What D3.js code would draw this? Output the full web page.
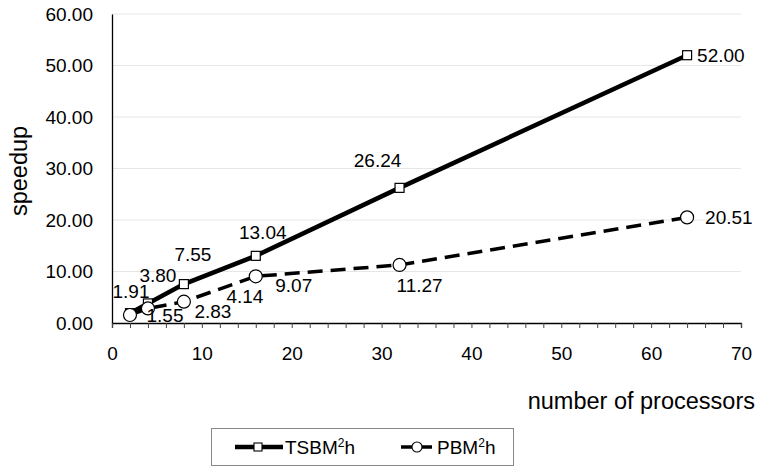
<!DOCTYPE html>
<html>
<head>
<meta charset="utf-8">
<script src="https://cdn.jsdelivr.net/npm/d3@7/dist/d3.min.js"></script>
<style>
  html, body { margin: 0; padding: 0; background: #fff; }
  svg text { font-family: "Liberation Sans", Arial, sans-serif; fill: #000; }
</style>
</head>
<body>
<svg id="chart" width="759" height="468"></svg>
<script>
// Speedup measurements for the two solvers
const processors = [2, 4, 8, 16, 32, 64];
const tsbmSpeedup = [1.91, 3.80, 7.55, 13.04, 26.24, 52.00];
const pbmSpeedup = [1.55, 2.83, 4.14, 9.07, 11.27, 20.51];
const yTicks = [0, 10, 20, 30, 40, 50, 60];
const xTicks = [0, 10, 20, 30, 40, 50, 60, 70];

// Label placement relative to each point: [dx, dy, anchor]
const tsbmLabelPos = [[1, -15, "middle"], [10, -21, "middle"], [9, -23, "middle"], [7, -17, "middle"], [-22, -21, "middle"], [10, 7, "start"]];
const pbmLabelPos = [[35, 7, "middle"], [65, 10, "middle"], [61, 1, "middle"], [38, 16, "middle"], [20, 27, "middle"], [18, 7, "start"]];

const svg = d3.select("#chart");
const margin = { left: 112, right: 18, top: 14, bottom: 145 };
const W = 759, H = 468;
const FONT = "Liberation Sans, Arial, sans-serif";

const x = d3.scaleLinear().domain([0, 70]).range([margin.left, W - margin.right]);
const y = d3.scaleLinear().domain([0, 60]).range([H - margin.bottom, margin.top]);

// horizontal gridlines
svg.append("g")
  .selectAll("line")
  .data(yTicks.filter(d => d > 0))
  .join("line")
  .attr("x1", x(0)).attr("x2", x(70))
  .attr("y1", d => y(d)).attr("y2", d => y(d))
  .attr("stroke", "#e6e6e6").attr("stroke-width", 1);

// y axis: line + labels, no tick marks
const yAxis = svg.append("g")
  .attr("transform", `translate(${x(0)},0)`)
  .call(d3.axisLeft(y).tickValues(yTicks).tickSize(0).tickPadding(19).tickFormat(d3.format(".2f")));
yAxis.select(".domain").attr("stroke", "#000").attr("stroke-width", 1.3);
yAxis.selectAll("text").attr("font-size", 19).attr("font-family", FONT);

// x axis: minor ticks every 2 units
const xMinor = svg.append("g")
  .attr("transform", `translate(0,${y(0)})`)
  .call(d3.axisBottom(x).tickValues(d3.range(0, 71, 2)).tickSize(5).tickFormat(""));
xMinor.select(".domain").attr("stroke", "#000").attr("stroke-width", 1.3);
xMinor.selectAll(".tick line").attr("stroke", "#444");

const xAxis = svg.append("g")
  .attr("transform", `translate(0,${y(0)})`)
  .call(d3.axisBottom(x).tickValues(xTicks).tickSize(0).tickPadding(24));
xAxis.select(".domain").remove();
xAxis.selectAll("text").attr("font-size", 19).attr("font-family", FONT);

// axis titles
svg.append("text")
  .attr("x", 755).attr("y", 409)
  .attr("text-anchor", "end").attr("font-size", 23.5)
  .text("number of processors");
svg.append("text")
  .attr("transform", `translate(27,171) rotate(-90)`)
  .attr("text-anchor", "middle").attr("font-size", 23.5)
  .text("speedup");

const line = d3.line().x(d => x(d[0])).y(d => y(d[1]));
const tsbm = processors.map((p, i) => [p, tsbmSpeedup[i]]);
const pbm = processors.map((p, i) => [p, pbmSpeedup[i]]);

// PBM²h: dashed line with hollow circles
svg.append("path").datum(pbm)
  .attr("d", line).attr("fill", "none")
  .attr("stroke", "#000").attr("stroke-width", 3.5)
  .attr("stroke-dasharray", "15,8");

// TSBM²h: thick solid line with hollow squares
svg.append("path").datum(tsbm)
  .attr("d", line).attr("fill", "none")
  .attr("stroke", "#000").attr("stroke-width", 4.5);

svg.append("g").selectAll("rect").data(tsbm).join("rect")
  .attr("x", d => x(d[0]) - 4.5).attr("y", d => y(d[1]) - 4.5)
  .attr("width", 9).attr("height", 9)
  .attr("fill", "#fff").attr("stroke", "#000").attr("stroke-width", 1.2);

svg.append("g").selectAll("circle").data(pbm).join("circle")
  .attr("cx", d => x(d[0])).attr("cy", d => y(d[1])).attr("r", 6.5)
  .attr("fill", "#fff").attr("stroke", "#000").attr("stroke-width", 1.2);

// value labels
function drawLabels(data, pos) {
  svg.append("g").selectAll("text").data(data).join("text")
    .attr("x", (d, i) => x(d[0]) + pos[i][0])
    .attr("y", (d, i) => y(d[1]) + pos[i][1])
    .attr("text-anchor", (d, i) => pos[i][2])
    .attr("font-size", 19)
    .text(d => d[1].toFixed(2));
}
drawLabels(tsbm, tsbmLabelPos);
drawLabels(pbm, pbmLabelPos);

// legend
const lg = svg.append("g");
lg.append("rect")
  .attr("x", 211.5).attr("y", 428.5).attr("width", 302).attr("height", 37)
  .attr("fill", "#fff").attr("stroke", "#888").attr("stroke-width", 1);

const ly = 447;
lg.append("line").attr("x1", 235).attr("x2", 283).attr("y1", ly).attr("y2", ly)
  .attr("stroke", "#000").attr("stroke-width", 4.5);
lg.append("rect").attr("x", 254).attr("y", ly - 4).attr("width", 8).attr("height", 8)
  .attr("fill", "#fff").attr("stroke", "#000").attr("stroke-width", 1.1);
const t1 = lg.append("text").attr("x", 285).attr("y", ly + 7).attr("font-size", 19);
t1.append("tspan").text("TSBM");
t1.append("tspan").attr("font-size", 12).attr("dy", -7).text("2");
t1.append("tspan").attr("dy", 7).text("h");

lg.append("line").attr("x1", 401).attr("x2", 412).attr("y1", ly).attr("y2", ly)
  .attr("stroke", "#000").attr("stroke-width", 3.5);
lg.append("line").attr("x1", 421).attr("x2", 432).attr("y1", ly).attr("y2", ly)
  .attr("stroke", "#000").attr("stroke-width", 3.5);
lg.append("circle").attr("cx", 417).attr("cy", ly).attr("r", 5)
  .attr("fill", "#fff").attr("stroke", "#000").attr("stroke-width", 1.1);
const t2 = lg.append("text").attr("x", 437).attr("y", ly + 7).attr("font-size", 19);
t2.append("tspan").text("PBM");
t2.append("tspan").attr("font-size", 12).attr("dy", -7).text("2");
t2.append("tspan").attr("dy", 7).text("h");
</script>
</body>
</html>
